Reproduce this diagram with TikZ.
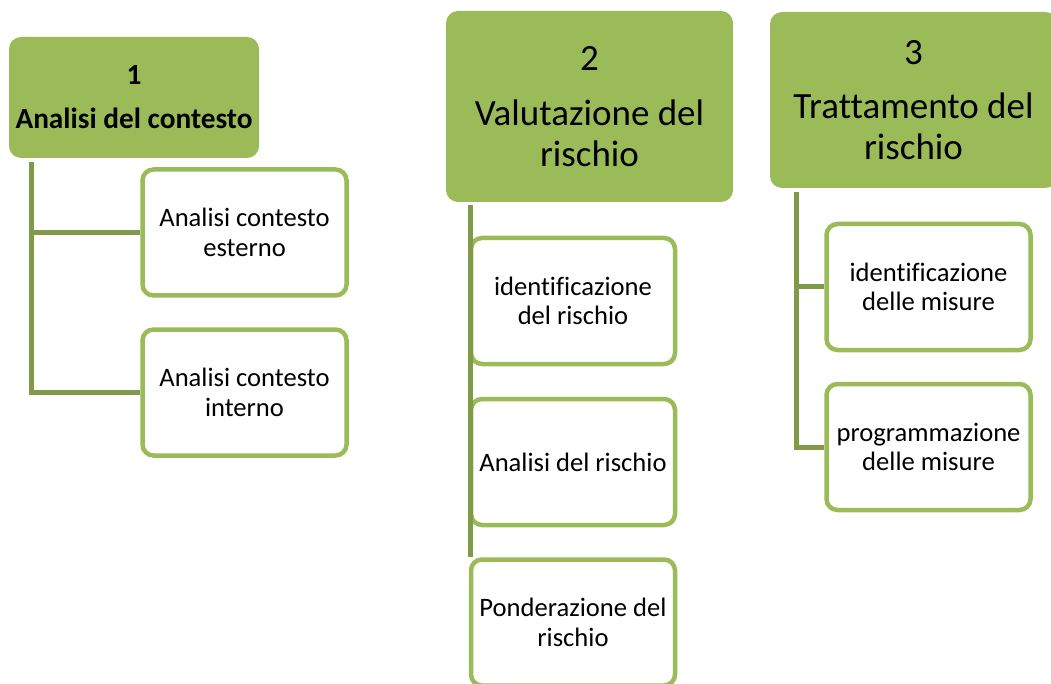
\documentclass[tikz,border=0pt]{standalone}
\usepackage{fontspec}
\setmainfont{Carlito}[Ligatures={NoCommon}]
\usetikzlibrary{calc}

\definecolor{headgreen}{HTML}{9BBB59}
\definecolor{linkgreen}{HTML}{7F9B48}

\begin{document}
\begin{tikzpicture}[x=1pt, y=-1pt,
    head/.style={rectangle, rounded corners=12pt, fill=headgreen, inner sep=0pt,
      align=center, minimum width=287pt},
    headfont/.style={font=\fontsize{37}{41}\selectfont},
    child/.style={rectangle, rounded corners=11pt, draw=headgreen, line width=4.5pt,
      fill=white, inner sep=0pt, align=center, minimum width=204pt,
      minimum height=126pt, font=\fontsize{26.6}{29.5}\selectfont},
    link/.style={draw=linkgreen, line width=5pt}]

    \useasboundingbox (0,0) rectangle (1051,684);

    % the three steps
    \node[head, minimum width=250pt, minimum height=121pt,
      font=\bfseries\fontsize{29.3}{35}\selectfont] (h1) at (134,97.5)
      {1\\[9pt]Analisi del contesto};
    \node[head, headfont, minimum height=191pt] (h2) at (589.5,106.5)
      {2\\[14pt]Valutazione del\\rischio};
    \node[head, headfont, minimum height=176pt] (h3) at (913.5,100)
      {3\\[13pt]Trattamento del\\rischio};

    % sub-steps
    \node[child] (c1a) at (244.5,232.5) {Analisi contesto\\esterno};
    \node[child] (c1b) at (244.5,392.5) {Analisi contesto\\interno};

    \node[child] (c2a) at (573,301) {identificazione\\del rischio};
    \node[child] (c2b) at (573,462) {Analisi del rischio};
    \node[child] (c2c) at (573,622.5) {Ponderazione del\\rischio};

    \node[child] (c3a) at (928.5,287) {identificazione\\delle misure};
    \node[child] (c3b) at (928.5,447) {programmazione\\delle misure};

    % connectors
    \coordinate (t1) at ($(h1.south west)+(23,4)$);
    \coordinate (t2) at ($(h2.south west)+(25,3)$);
    \coordinate (t3) at ($(h3.south west)+(27,4)$);

    \draw[link] (t1) |- (c1a.west);
    \draw[link] (t1) |- (c1b.west);

    \draw[link] (t2) -- (t2 |- c2c.north);

    \draw[link] (t3) |- (c3a.west);
    \draw[link] (t3) |- (c3b.west);

\end{tikzpicture}
\end{document}
